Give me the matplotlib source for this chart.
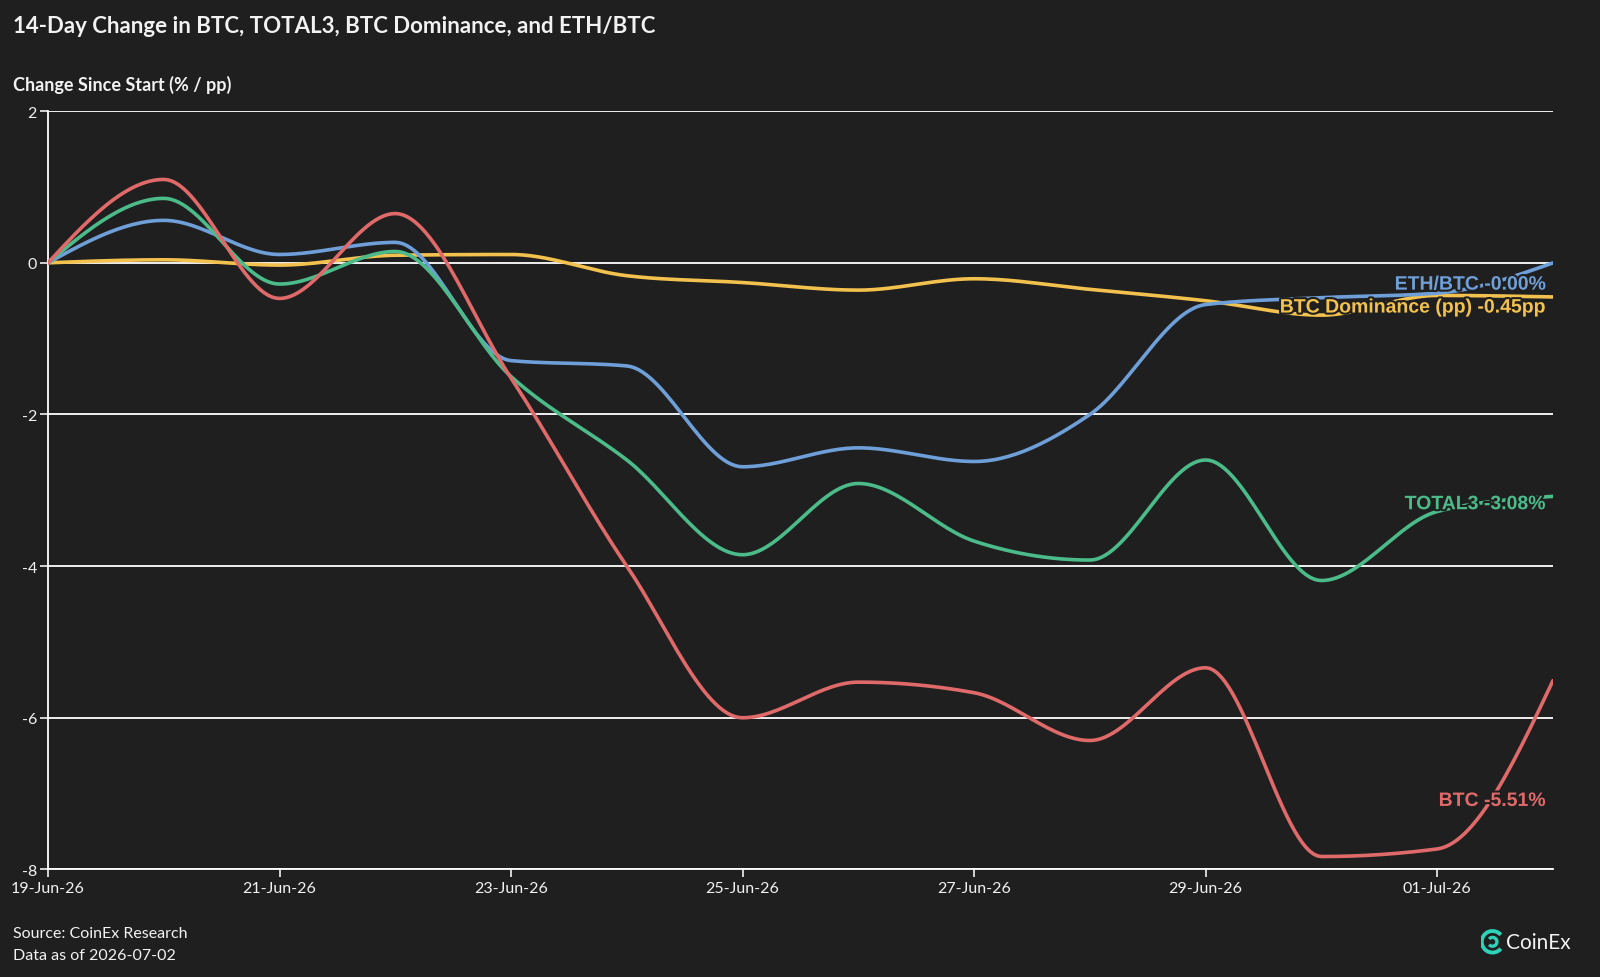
import datetime as dt
import numpy as np
import matplotlib
matplotlib.use("Agg")
import matplotlib.pyplot as plt
import matplotlib.dates as mdates
import matplotlib.patheffects as pe
from matplotlib.patches import Arc

# data: daily change since 19-Jun-26 (% for prices, pp for dominance)
start = dt.date(2026, 6, 19)
dates = [start + dt.timedelta(days=i) for i in range(14)]

btc = [0, 1.10, -0.47, 0.65, -1.52, -4.0, -6.0, -5.53, -5.67, -6.3, -5.34, -7.83, -7.73, -5.51]
total3 = [0, 0.85, -0.28, 0.15, -1.5, -2.6, -3.85, -2.91, -3.67, -3.92, -2.6, -4.19, -3.28, -3.08]
eth_btc = [0, 0.56, 0.11, 0.27, -1.29, -1.36, -2.69, -2.44, -2.62, -2.0, -0.55, -0.46, -0.40, -0.001]
btc_dom = [0, 0.04, -0.03, 0.10, 0.11, -0.17, -0.26, -0.36, -0.21, -0.35, -0.50, -0.69, -0.43, -0.45]

series = [
    ("BTC Dominance (pp)", btc_dom, "pp", "#f2c14e"),
    ("ETH/BTC", eth_btc, "%", "#6f9fd8"),
    ("TOTAL3", total3, "%", "#4cbb8a"),
    ("BTC", btc, "%", "#e06a6a"),
]
# label nudges in points (dx, dy), just to keep them apart
nudges = {"ETH/BTC": (-5, -16), "BTC Dominance (pp)": (-5, -8), "TOTAL3": (-5, -6), "BTC": (-5, -87)}

BG = "#1f1f1f"
FG = "#f2f2f2"


def monotone(x, y, n=30):
    # d3 curveMonotoneX style smoothing
    x = np.asarray(x, float)
    y = np.asarray(y, float)
    h = np.diff(x)
    s = np.diff(y) / h
    t = np.zeros(len(x))
    for i in range(1, len(x) - 1):
        p = (s[i - 1] * h[i] + s[i] * h[i - 1]) / (h[i - 1] + h[i])
        t[i] = (np.sign(s[i - 1]) + np.sign(s[i])) * min(abs(s[i - 1]), abs(s[i]), 0.5 * abs(p))
    t[0] = (3 * s[0] - t[1]) / 2
    t[-1] = (3 * s[-1] - t[-2]) / 2
    xs, ys = [], []
    for i in range(len(x) - 1):
        u = np.linspace(0, 1, n, endpoint=(i == len(x) - 2))
        p0 = np.array([x[i], y[i]])
        p3 = np.array([x[i + 1], y[i + 1]])
        p1 = np.array([x[i] + h[i] / 3, y[i] + h[i] * t[i] / 3])
        p2 = np.array([x[i + 1] - h[i] / 3, y[i + 1] - h[i] * t[i + 1] / 3])
        b = ((1 - u) ** 3)[:, None] * p0 + (3 * (1 - u) ** 2 * u)[:, None] * p1 \
            + (3 * (1 - u) * u ** 2)[:, None] * p2 + (u ** 3)[:, None] * p3
        xs.append(b[:, 0])
        ys.append(b[:, 1])
    return np.concatenate(xs), np.concatenate(ys)


plt.rcParams["font.family"] = ["Lato", "DejaVu Sans"]

fig = plt.figure(figsize=(16, 9.78), dpi=100, facecolor=BG)
ax = fig.add_axes([0.030, 0.110, 0.9406, 0.7753])
ax.set_facecolor(BG)

xnum = mdates.date2num(dates)
for name, vals, unit, col in series:
    sx, sy = monotone(xnum, vals)
    ax.plot(sx, sy, color=col, lw=2.6, solid_capstyle="round", zorder=3)

for name, vals, unit, col in series:
    dx, dy = nudges[name]
    ax.annotate(f"{name} {vals[-1]:.2f}{unit}", xy=(xnum[-1], vals[-1]),
                xytext=(dx, dy), textcoords="offset points",
                ha="right", va="center", color=col, fontsize=14, fontweight="bold",
                family="Liberation Sans", zorder=5,
                path_effects=[pe.withStroke(linewidth=3, foreground=BG)])

ax.set_xlim(xnum[0], xnum[-1])
ax.set_ylim(-8, 2)
ax.set_yticks(np.arange(-8, 3, 2))
ax.yaxis.set_major_formatter(matplotlib.ticker.FuncFormatter(lambda v, p: f"{v:.0f}"))
ax.set_xticks(xnum[::2])
ax.xaxis.set_major_formatter(mdates.DateFormatter("%d-%b-%y"))
ax.grid(axis="y", color="#ffffff", lw=1.3, zorder=1)
for sp in ["top", "right"]:
    ax.spines[sp].set_visible(False)
for sp in ["left", "bottom"]:
    ax.spines[sp].set_color("#ffffff")
    ax.spines[sp].set_linewidth(1.3)
ax.tick_params(colors=FG, labelsize=11.5, length=6, width=1.2, pad=2)

fig.text(0.008, 0.973, "14-Day Change in BTC, TOTAL3, BTC Dominance, and ETH/BTC",
         color=FG, fontsize=16, fontweight="bold", va="center", ha="left")
fig.text(0.008, 0.913, "Change Since Start (% / pp)", color=FG, fontsize=13,
         fontweight="bold", va="center", ha="left")
fig.text(0.008, 0.045, "Source: CoinEx Research", color=FG, fontsize=11.5, va="center")
fig.text(0.008, 0.023, "Data as of 2026-07-02", color=FG, fontsize=11.5, va="center")

# logo
lax = fig.add_axes([0.908, 0.021, 0.09, 0.03])
lax.set_xlim(0, 9)
lax.set_ylim(0, 3)
lax.set_aspect("equal")
lax.axis("off")
lax.add_patch(Arc((1.2, 1.5), 2.2, 2.2, theta1=40, theta2=320, color="#2ed3b7", lw=2.8))
lax.add_patch(Arc((1.2, 1.5), 0.9, 0.9, theta1=220, theta2=500, color="#2ed3b7", lw=2.4))
lax.text(2.6, 1.45, "CoinEx", color=FG, fontsize=15, va="center", ha="left", family="Lato")

fig.savefig("out.png", dpi=100, facecolor=BG)
